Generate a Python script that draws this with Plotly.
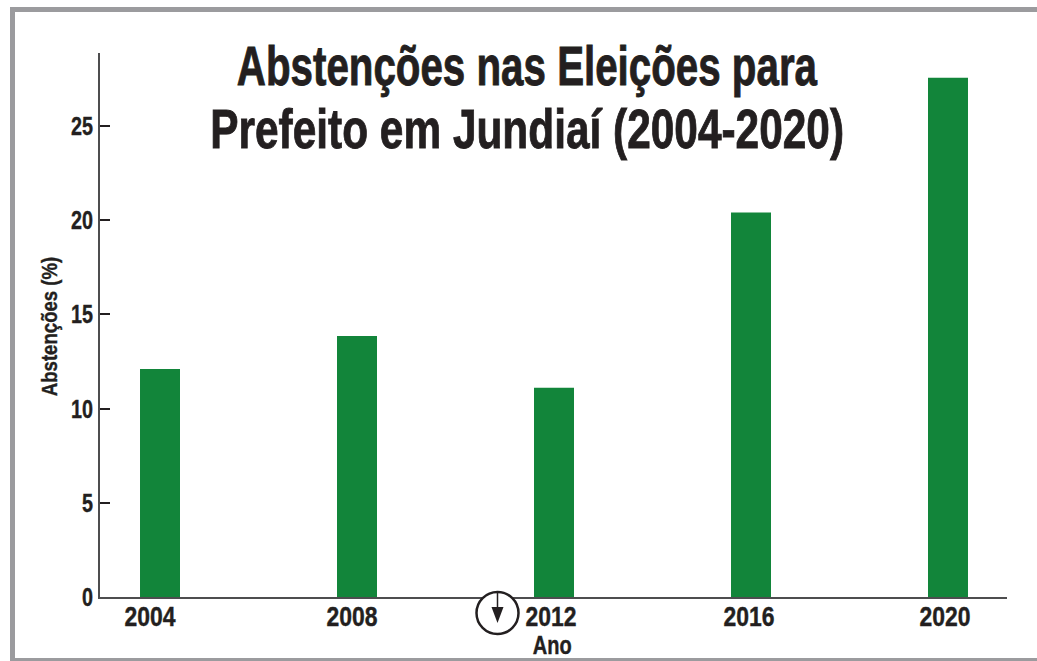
import plotly.graph_objects as go

# Turnout data for the municipal elections
anos = ["2004", "2008", "2012", "2016", "2020"]
abstencoes = [12.1, 13.85, 11.1, 20.4, 27.55]
y_ticks = [0, 5, 10, 15, 20, 25]
titulo = ["Abstenções nas Eleições para", "Prefeito em Jundiaí (2004-2020)"]

W, H = 1037, 661
L, R, T, B = 100, 1007, 53, 597
FONT = "Liberation Sans"
INK = "#231f20"
GREEN = "#12853a"
FRAME = "#9b9b9e"
AXIS = "#4d4d4f"


def px(x):
    return (x - L) / (R - L)


def py(y):
    return (B - y) / (B - T)


def rect(x0, y0, x1, y1):
    return dict(type="rect", xref="paper", yref="paper", x0=px(x0), x1=px(x1),
                y0=py(y0), y1=py(y1), fillcolor=FRAME, line_width=0, layer="below")


def bold(size):
    return dict(family=FONT, size=size, color=INK, weight="bold")


def page_text(x, y, text, size, **kw):
    return dict(x=px(x), y=py(y), xref="paper", yref="paper", text=text, showarrow=False,
                xanchor="center", yanchor="middle", font=bold(size), **kw)


fig = go.Figure(go.Bar(x=list(range(len(anos))), y=abstencoes, width=0.203,
                       marker=dict(color=GREEN, line_width=0)))

# Year labels sit a little left of their bars, so they are placed individually
label_offsets = [-10, -5, -3, -2, -3]
annotations = [
    dict(x=i, y=0, xref="x", yref="y", text=a, showarrow=False, xshift=s, yshift=-20,
         font=bold(27))
    for i, (a, s) in enumerate(zip(anos, label_offsets))
]
annotations += [
    page_text(552, 645, "Ano", 25),
    page_text(49, 327, "Abstenções (%)", 22, textangle=-90),
    page_text(527, 66, titulo[0], 55),
    page_text(527, 129, titulo[1], 55),
]

# Page frame and the circled downward arrow beside the 2012 label
shapes = [
    rect(10, 7, W, 12),
    rect(10, 7, 15, H),
    rect(10, 658, W, H),
    dict(type="circle", xref="paper", yref="paper",
         x0=px(476.5), x1=px(518.5), y0=py(592), y1=py(634),
         line=dict(color=INK, width=2.5), fillcolor="white"),
    dict(type="line", xref="paper", yref="paper",
         x0=px(497.5), x1=px(497.5), y0=py(592), y1=py(610),
         line=dict(color=INK, width=1.5)),
    dict(type="path", xref="paper", yref="paper",
         path=f"M {px(491.5)} {py(607)} L {px(503.5)} {py(607)} L {px(497.5)} {py(623)} Z",
         fillcolor=INK, line_width=0),
]

fig.update_layout(
    width=W, height=H, autosize=False,
    margin=dict(l=L, r=W - R, t=T, b=H - B),
    paper_bgcolor="white", plot_bgcolor="white",
    showlegend=False, annotations=annotations, shapes=shapes,
    font=dict(family=FONT, color=INK),
)
fig.update_xaxes(range=[-0.3046, 4.2995], showticklabels=False, ticks="",
                 showgrid=False, zeroline=False, showline=True,
                 linecolor=AXIS, linewidth=1.5)
fig.update_yaxes(range=[0, 28.87], tickvals=y_ticks, ticks="inside", ticklen=10,
                 tickwidth=2, tickcolor=INK, showgrid=False, zeroline=False,
                 showline=True, linecolor=AXIS, linewidth=1.5, tickfont=bold(26))

# The typeface is a condensed grotesque: narrow each text horizontally about its anchor
condense = """
var gd = document.querySelector('.plotly-graph-div');
function squeeze(el, s, right, weight) {
  var b = el.getBBox();
  var cx = right ? b.x + b.width : b.x + b.width / 2;
  var prev = el.getAttribute('transform') || '';
  el.setAttribute('transform', prev + ' translate(' + cx + ',0) scale(' + s + ',1) translate(' + (-cx) + ',0)');
  el.style.stroke = '#231f20';
  el.style.strokeWidth = weight + 'px';
}
gd.querySelectorAll('.annotation-text').forEach(function (el) {
  var fs = parseFloat(el.style.fontSize);
  var s = 0.845;
  var weight = 0.4;
  if (fs === 27) { s = 0.85; }
  if (fs === 25) { s = 0.8; }
  if (fs > 40) {
    s = el.textContent.indexOf('Prefeito') === 0 ? 0.771 : 0.733;
    weight = 0.9;
  }
  squeeze(el, s, false, weight);
});
gd.querySelectorAll('.ytick text').forEach(function (el) { squeeze(el, 0.76, true, 0.4); });
"""

fig.write_html("out.html", post_script=condense)
